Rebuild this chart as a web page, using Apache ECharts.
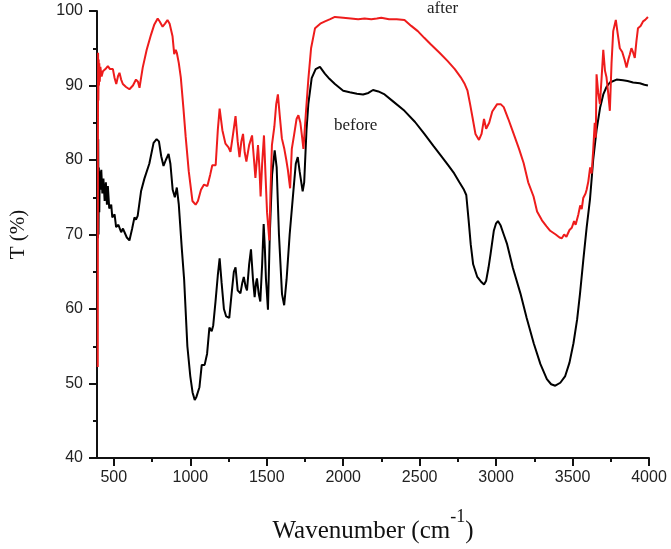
<!DOCTYPE html>
<html>
<head>
<meta charset="utf-8">
<script src="https://cdn.jsdelivr.net/npm/echarts@6/dist/echarts.min.js"></script>
<style>html,body{margin:0;padding:0;background:#fff}#c{width:671px;height:549px}</style>
</head>
<body>
<div id="c"></div>
<script>
const xMajorTicks = [500,1000,1500,2000,2500,3000,3500,4000];
const xMinorTicks = [750,1250,1750,2250,2750,3250,3750];
const beforeWavenumber = [396,398,400,402,405,408,412,418,425,432,440,448,455,461,470,483,490,505,515,530,548,560,570,585,602,620,635,645,656,678,700,732,760,780,795,810,825,840,858,870,885,899,912,925,945,960,981,1000,1015,1029,1040,1060,1075,1094,1110,1125,1140,1150,1165,1180,1192,1205,1220,1235,1245,1255,1270,1285,1296,1310,1328,1340,1350,1362,1371,1385,1397,1410,1421,1430,1436,1448,1458,1470,1480,1488,1495,1500,1508,1520,1535,1552,1565,1580,1600,1614,1630,1650,1675,1690,1703,1715,1735,1745,1760,1772,1794,1820,1848,1880,1910,1946,2000,2043,2090,2130,2165,2195,2230,2271,2330,2401,2470,2531,2590,2639,2690,2726,2760,2790,2805,2820,2834,2850,2877,2900,2921,2935,2950,2964,2985,3000,3012,3030,3050,3072,3110,3159,3200,3246,3290,3332,3360,3387,3420,3452,3480,3506,3530,3549,3570,3592,3614,3635,3657,3680,3701,3722,3744,3788,3830,3860,3896,3940,3970,3993];
const beforeT = [69.5,82.8,70,79,73,78.5,76,78.7,75.5,77.5,74.5,77,74,76.5,73.5,74,72.3,72.7,71,71.3,70.3,70.8,70.3,69.6,69.2,70.8,72.3,72,72.5,75.8,77.5,79.5,82.3,82.8,82.5,80.5,79.2,80,80.8,79.5,76,75,76.3,74,68,63.9,55,51,48.8,47.8,48.2,49.5,52.5,52.5,54,57.5,57,57.8,61,64.5,66.8,63.5,60,59,59.2,58.8,62,65,65.6,62.5,62.1,63.5,64.3,63,62.5,66,68,64,61.6,63.5,64.1,62,61,66,71.4,68,64,62.5,59.9,70,78,81.3,79,70,62,60.5,64,70,76,79.5,80.4,78.5,75.8,77,84,87.5,91,92.2,92.5,91.6,90.9,90.2,89.3,89.1,88.9,88.8,89,89.4,89.2,88.8,87.8,86.6,85.1,83.5,81.9,80.6,79.2,78.2,77,76,75.3,72,68.7,66,64.3,63.7,63.3,63.8,65.5,67.4,70.5,71.5,71.8,71.2,70,68.7,65.5,62.1,58.8,55.4,52.6,50.6,49.9,49.7,50.1,51,52.8,55.4,58.6,62.1,66.5,70.9,74.7,80,84,87,88.8,89.8,90.4,90.8,90.7,90.6,90.4,90.3,90.1,90];
const afterWavenumber = [395,396,397,399,401,403,405,408,412,420,429,445,461,475,494,505,516,528,537,548,559,580,602,625,645,658,668,678,689,715,743,765,787,800,819,835,851,865,884,895,905,912,925,938,955,970,990,1014,1035,1050,1070,1090,1112,1130,1144,1166,1180,1192,1210,1230,1250,1263,1280,1296,1310,1322,1334,1345,1356,1367,1385,1404,1415,1426,1443,1452,1460,1470,1482,1492,1502,1510,1517,1525,1534,1550,1562,1573,1585,1599,1615,1628,1638,1653,1664,1680,1695,1707,1720,1730,1740,1755,1772,1790,1816,1850,1881,1915,1946,2000,2050,2098,2140,2184,2220,2249,2300,2350,2401,2445,2488,2530,2574,2630,2682,2730,2769,2795,2813,2830,2845,2865,2888,2905,2921,2935,2942,2955,2975,3007,3030,3050,3080,3115,3150,3180,3210,3245,3268,3300,3330,3354,3390,3415,3430,3445,3460,3480,3495,3510,3520,3538,3550,3560,3570,3585,3592,3603,3615,3625,3635,3645,3652,3657,3668,3679,3690,3701,3712,3722,3733,3744,3755,3766,3783,3795,3809,3825,3840,3853,3865,3875,3885,3895,3907,3918,3928,3945,3961,3975,3993];
const afterT = [52.2,80,94.4,88,93.5,90,93,90.5,92.5,91.2,91.9,92.2,92.6,92.2,92.2,91,90.2,91.3,91.7,90.8,90.2,89.8,89.5,90,90.8,90.5,89.7,91,92.4,94.8,96.8,98.2,99,98.6,97.9,98.3,98.8,98.3,96.6,94.2,94.8,94.4,93,91.1,87,83.1,78.5,74.5,74,74.5,76,76.7,76.5,78,79.3,79.3,84,86.9,84,82.2,81.7,81.1,83.5,85.9,82.5,80.4,82.5,83.5,81,79.8,82,83.3,80.5,77.6,82,79,75.1,79.5,83.3,78,73,71,69.2,76,82,84.5,87.5,88.8,86,82.9,81.5,80,78.7,76.2,81.5,83.5,85.5,86,85,83.3,81.5,86,90.8,95,97.7,98.3,98.6,98.9,99.2,99.1,99,98.9,99,98.9,99,99.1,98.9,98.9,98.8,98,97.3,96.4,95.5,94.4,93.3,92.2,91.1,90.2,89.3,87.5,85.8,83.5,82.7,83.5,85.5,84.2,84,85,86.5,87.5,87.5,87.1,85.5,83.5,81.5,79.6,77,75.1,73.1,71.9,71.1,70.5,70,69.6,69.5,70,69.7,70.6,70.9,71.8,71.3,72.7,73.9,73.4,74.9,75.5,76,77.1,79,78.2,81.3,85,83,91.5,89,87.5,91,94.8,92,91.1,89,86.6,93,97.3,98.8,97,95,94.5,93.5,92.4,93.5,94.2,95,94.5,93.7,96,97.7,98,98.6,98.8,99.2];

const zip = (a, b) => a.map((v, i) => [v, b[i]]);
const chart = echarts.init(document.getElementById('c'));
const axisColor = '#111';
chart.setOption({
  animation: false,
  backgroundColor: '#fff',
  grid: {left: 94, right: 22, top: 11, bottom: 86},
  xAxis: [{
    type: 'value', min: 390, max: 4000,
    axisLine: {show: true, lineStyle: {color: axisColor, width: 2}},
    axisTick: {show: true, length: 8, lineStyle: {color: axisColor, width: 2}, customValues: xMajorTicks},
    axisLabel: {customValues: xMajorTicks, formatter: v => String(v), color: '#222', fontSize: 16, fontFamily: 'Liberation Sans, Arial, sans-serif', margin: 12},
    splitLine: {show: false},
    name: '{a|Wavenumber (cm}{s|-1}{a|)}',
    nameLocation: 'middle', nameGap: 50,
    nameTextStyle: {
      rich: {
        a: {fontSize: 25, fontFamily: 'Liberation Serif, Times New Roman, serif', color: '#111', verticalAlign: 'bottom', lineHeight: 36},
        s: {fontSize: 18, fontFamily: 'Liberation Serif, Times New Roman, serif', color: '#111', verticalAlign: 'top', lineHeight: 16}
      }
    }
  }, {
    type: 'value', min: 390, max: 4000, position: 'bottom',
    axisLine: {show: false},
    axisTick: {show: true, length: 4, lineStyle: {color: axisColor, width: 2}, customValues: xMinorTicks},
    axisLabel: {show: false},
    splitLine: {show: false}
  }],
  yAxis: {
    type: 'value', min: 40, max: 100, interval: 10,
    axisLine: {show: true, lineStyle: {color: axisColor, width: 2}},
    axisTick: {show: true, length: 8, lineStyle: {color: axisColor, width: 2}},
    minorTick: {show: true, splitNumber: 2, length: 4, lineStyle: {color: axisColor, width: 2}},
    axisLabel: {color: '#222', fontSize: 16, fontFamily: 'Liberation Sans, Arial, sans-serif', margin: 14},
    splitLine: {show: false},
    name: 'T (%)', nameLocation: 'middle', nameGap: 68, nameRotate: 90,
    nameTextStyle: {fontSize: 21, fontFamily: 'Liberation Serif, Times New Roman, serif', color: '#111'}
  },
  series: [{
    name: 'before', type: 'line', data: zip(beforeWavenumber, beforeT),
    showSymbol: false, smooth: false, lineStyle: {color: '#000', width: 2}, z: 2
  }, {
    name: 'after', type: 'line', data: zip(afterWavenumber, afterT),
    showSymbol: false, smooth: false, lineStyle: {color: '#ee1c1c', width: 2}, z: 3
  }],
  graphic: [
    {type: 'text', left: 427, top: 0, style: {text: 'after', font: '17px "Liberation Serif", "Times New Roman", serif', fill: '#222'}},
    {type: 'text', left: 334, top: 117, style: {text: 'before', font: '17px "Liberation Serif", "Times New Roman", serif', fill: '#222'}}
  ]
});
</script>
</body>
</html>
